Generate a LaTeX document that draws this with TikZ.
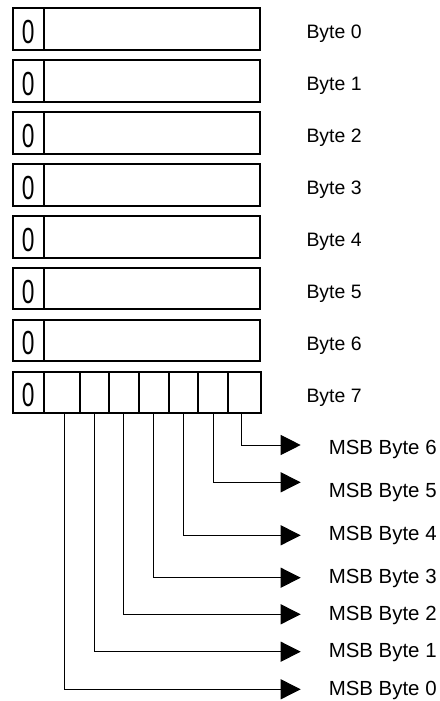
\documentclass[tikz,border=0pt]{standalone}
\usepackage{fontspec}
\setmainfont{Liberation Sans}
\usetikzlibrary{arrows.meta,calc}
\tikzset{
 reg/.style={draw,line width=2bp,minimum height=41.4bp,inner sep=0,outer sep=0,anchor=north west},
 zcell/.style={reg,minimum width=30.8bp},
 rest/.style={reg,minimum width=216.5bp},
 zero/.style={font=\fontsize{33.5}{34}\selectfont,xscale=0.68,inner sep=0},
 bytelbl/.style={font=\fontsize{19.5}{20}\selectfont,anchor=base west,inner sep=0},
 msblbl/.style={font=\fontsize{20.5}{21}\selectfont,anchor=base west,inner sep=0},
 flow/.style={line width=1bp,-{Triangle[length=20bp,width=20bp]}}
}
\begin{document}
\begin{tikzpicture}[x=1bp,y=-1bp]
\useasboundingbox (0,0) rectangle (440,701);
\foreach \k in {0,...,6}{
  \node[zcell] (z\k) at (12.7,{8.3+51.95*\k}) {};
  \node[rest] (r\k) at (z\k.north east) {};
}
\node[zcell] (z7) at (12.7,{8.3+51.95*7}) {};
\node[reg,minimum width=36.1bp] (c1) at (z7.north east) {};
\node[reg,minimum width=29.4bp] (c2) at (c1.north east) {};
\node[reg,minimum width=29.6bp] (c3) at (c2.north east) {};
\node[reg,minimum width=30bp] (c4) at (c3.north east) {};
\node[reg,minimum width=29.7bp] (c5) at (c4.north east) {};
\node[reg,minimum width=29.7bp] (c6) at (c5.north east) {};
\node[reg,minimum width=32.5bp] (c7) at (c6.north east) {};
\foreach \k in {0,...,7}{
  \node[zero] (o\k) at ($(z\k.north)+(0,23.5)$) {0};
  \node[bytelbl] (b\k) at (306.3,{8.3+51.95*\k+30.5}) {Byte \k};
}
% arrow tips
\coordinate (t6) at (300.7,445);
\coordinate (t5) at (300.7,482.3);
\coordinate (t4) at (300.7,535.3);
\coordinate (t3) at (300.7,577.7);
\coordinate (t2) at (300.7,614.3);
\coordinate (t1) at (300.7,651.7);
\coordinate (t0) at (300.7,689.3);
% labels
\node[msblbl] (m6) at (328.6,454) {MSB Byte 6};
\node[msblbl] (m5) at (328.6,497.7) {MSB Byte 5};
\node[msblbl] (m4) at (328.6,540.3) {MSB Byte 4};
\node[msblbl] (m3) at (328.6,583.7) {MSB Byte 3};
\node[msblbl] (m2) at (328.6,620.7) {MSB Byte 2};
\node[msblbl] (m1) at (328.6,657.3) {MSB Byte 1};
\node[msblbl] (m0) at (328.6,695.3) {MSB Byte 0};
% connectors
\draw[flow] ([xshift=2.8bp]c1.south) |- (t0);
\draw[flow] (c2.south) |- (t1);
\draw[flow] (c3.south) |- (t2);
\draw[flow] (c4.south) |- (t3);
\draw[flow] (c5.south) |- (t4);
\draw[flow] (c6.south) |- (t5);
\draw[flow] ([xshift=-2.3bp]c7.south) |- (t6);
\end{tikzpicture}
\end{document}
